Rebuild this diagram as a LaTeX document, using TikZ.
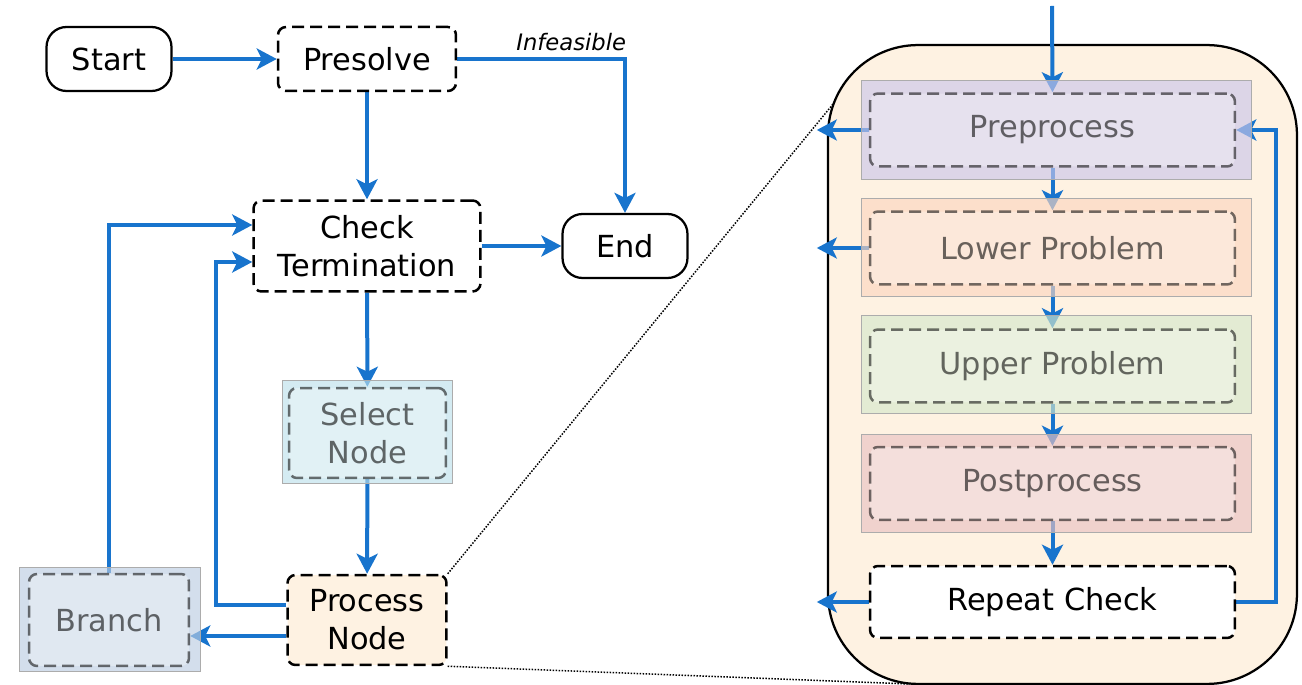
\documentclass[tikz,border=0pt]{standalone}
\usepackage{fontspec}
\setmainfont{DejaVu Sans}
\usetikzlibrary{arrows.meta}

\definecolor{flowblue}{HTML}{1874CD}
\definecolor{panelfill}{HTML}{FEF2E2}
\definecolor{selectfill}{HTML}{BDE0EB}
\definecolor{branchfill}{HTML}{BCCDE2}
\definecolor{prepfill}{HTML}{CAC6EA}
\definecolor{lowerfill}{HTML}{FBD6C0}
\definecolor{upperfill}{HTML}{D6E8CB}
\definecolor{postfill}{HTML}{EAC2C2}

\pgfdeclarelayer{panel}
\pgfdeclarelayer{arrows}
\pgfdeclarelayer{veil}
\pgfsetlayers{panel,arrows,veil,main}

\tikzset{
  term/.style={draw, line width=0.045cm, rounded corners=0.4cm, fill=white,
    minimum width=2.5cm, minimum height=1.28cm},
  stepbox/.style={draw, line width=0.05cm, dash pattern=on 0.24cm off 0.12cm,
    rounded corners=0.16cm, fill=white, align=center},
  fadedbox/.style={stepbox, fill opacity=0.3, draw opacity=0.55, text opacity=0.58},
  veilbox/.style={draw=gray!65, line width=0.02cm, fill opacity=0.65, inner sep=0pt},
  flow/.style={draw=flowblue, line width=0.08cm,
    -{Stealth[length=0.4cm, width=0.42cm, inset=0.1cm]}},
  zoomline/.style={line width=0.03cm, dash pattern=on 0.03cm off 0.03cm}
}

\begin{document}
\begin{tikzpicture}[x=0.02cm, y=-0.02cm, font=\fontsize{17.3}{21.6}\selectfont]
  \useasboundingbox (0,0) rectangle (1302,685);

  % left flow
  \node[term] (start) at (109,59) {Start};
  \node[stepbox, minimum width=3.56cm, minimum height=1.28cm] (presolve) at (367,59) {Presolve};
  \node[stepbox, minimum width=4.54cm, minimum height=1.82cm] (check) at (367,246) {Check\\Termination};
  \node[term] (end) at (625,246) {End};
  \node[stepbox, fill=panelfill, minimum width=3.18cm, minimum height=1.8cm] (process) at (367,620) {Process\\Node};

  \begin{pgfonlayer}{veil}
    \node[veilbox, fill=selectfill, minimum width=3.42cm, minimum height=2.08cm] (selbox) at (367.5,432) {};
    \node[veilbox, fill=branchfill, minimum width=3.64cm, minimum height=2.1cm] (brbox) at (110,619.5) {};
  \end{pgfonlayer}
  \node[fadedbox, minimum width=3.14cm, minimum height=1.8cm] (selin) at (367.5,433) {Select\\Node};
  \node[fadedbox, minimum width=3.2cm, minimum height=1.84cm] (brin) at (109,620) {Branch};

  % zoomed panel
  \coordinate (entry) at (1052,6);
  \coordinate (zoomtop) at (838,98);
  \coordinate (zoombot) at (910,684);
  \begin{pgfonlayer}{panel}
    \draw[zoomline] (process.north east) -- (zoomtop);
    \draw[zoomline] (process.south east) -- (zoombot);
    \node[draw, line width=0.045cm, fill=panelfill, rounded corners=1.8cm,
      minimum width=9.38cm, minimum height=12.78cm] (panel) at (1062.5,364.5) {};
  \end{pgfonlayer}

  \begin{pgfonlayer}{veil}
    \foreach \nm/\y/\col in {prepbox/130/prepfill, lowbox/247.5/lowerfill,
        uppbox/364.5/upperfill, postbox/483.5/postfill}
      \node[veilbox, fill=\col, minimum width=7.82cm, minimum height=1.98cm] (\nm) at (1056.5,\y) {};
  \end{pgfonlayer}
  \foreach \nm/\y/\txt in {prepin/130/Preprocess, lowin/248/Lower Problem,
      uppin/366/Upper Problem, postin/483.5/Postprocess}
    \node[fadedbox, minimum width=7.3cm, minimum height=1.46cm] (\nm) at (1052.5,\y) {\txt};
  \node[stepbox, minimum width=7.3cm, minimum height=1.44cm] (repeat) at (1052.5,602) {Repeat Check};

  \begin{pgfonlayer}{arrows}
    \draw[flow] (start) -- (presolve);
    \draw[flow] (presolve.east) -| (end.north)
      node[pos=0.5, anchor=south east, inner sep=0pt, xshift=0.06cm, yshift=0.12cm,
        font=\fontsize{12.9}{15}\selectfont\itshape] {Infeasible};
    \draw[flow] (presolve) -- (check);
    \draw[flow] (check) -- (end);
    \draw[flow] (check) -- (selin);
    \draw[flow] (selin) -- (process);
    \draw[flow] ([yshift=-0.32cm]process.west) -- ([yshift=-0.32cm]brin.east);
    \draw[flow] ([yshift=0.3cm]process.west) -- ++(-1.4cm,0) |- ([yshift=-0.32cm]check.west);
    \draw[flow] (brin.north) |- ([yshift=0.42cm]check.west);

    \draw[flow] (entry) -- (prepin.north);
    \draw[flow] (prepin) -- (lowin);
    \draw[flow] (lowin) -- (uppin);
    \draw[flow] (uppin) -- (postin);
    \draw[flow] (postin) -- (repeat);
    \foreach \nm in {prepin, lowin, repeat}
      \draw[flow] (\nm.west) -- ++(-1.04cm,0);
    \draw[flow] (repeat.east) -- ++(0.8cm,0) |- (prepin.east);
  \end{pgfonlayer}
\end{tikzpicture}
\end{document}
